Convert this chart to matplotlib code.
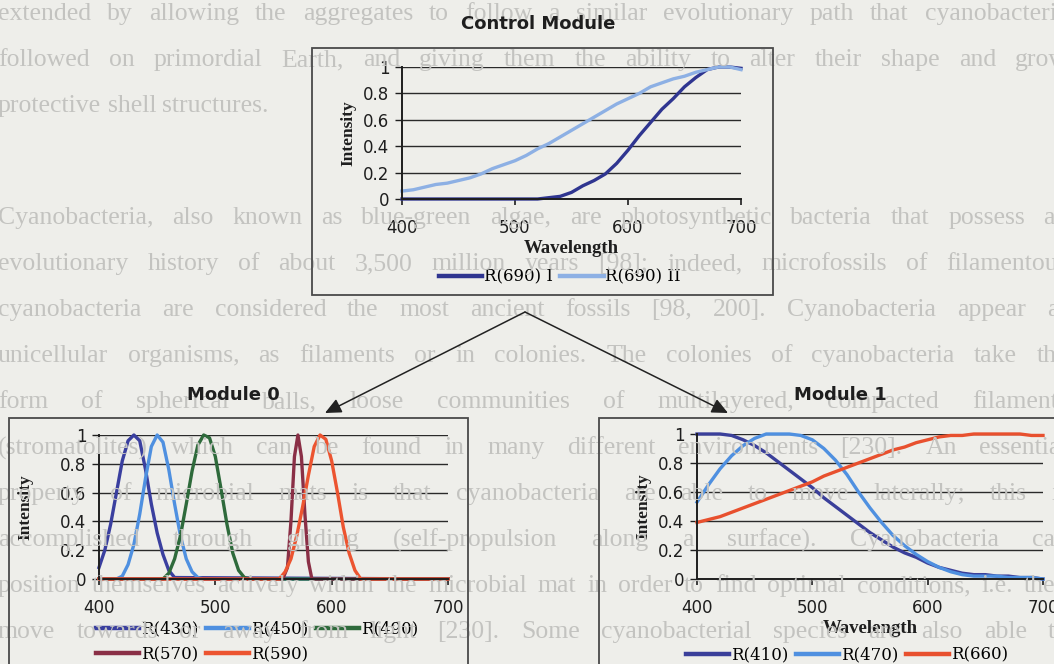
#!/usr/bin/env python3
"""
Spectral response of the control module and the two evolved modules
"""

import matplotlib
matplotlib.use('Agg')
import matplotlib.pyplot as plt
from matplotlib.patches import Rectangle, FancyArrowPatch
from matplotlib.font_manager import FontProperties

W, H = 1054, 664

# ---- data ----
wl = [400, 410, 420, 430, 440, 450, 460, 470, 480, 490, 500, 510, 520, 530, 540, 550,
      560, 570, 580, 590, 600, 610, 620, 630, 640, 650, 660, 670, 680, 690, 700]

control_labels = ['R(690) I', 'R(690) II']
r690_1 = [0, 0, 0, 0, 0, 0, 0, 0, 0, 0, 0, 0, 0, 0.01, 0.02, 0.05,
          0.1, 0.14, 0.19, 0.27, 0.37, 0.48, 0.58, 0.68, 0.76, 0.85, 0.92, 0.98, 1.0, 1.0, 0.99]
r690_2 = [0.06, 0.07, 0.09, 0.11, 0.12, 0.14, 0.16, 0.19, 0.23, 0.26, 0.29, 0.33, 0.38, 0.42, 0.47, 0.52,
          0.57, 0.62, 0.67, 0.72, 0.76, 0.80, 0.85, 0.88, 0.91, 0.93, 0.96, 0.98, 1.0, 1.0, 0.98]

module0_labels = ['R(430)', 'R(450)', 'R(490)', 'R(570)', 'R(590)']
r430_x = [400, 405, 410, 415, 420, 425, 430, 435, 440, 445, 450, 455, 460, 465, 700]
r430_y = [0.08, 0.2, 0.38, 0.6, 0.82, 0.96, 1.0, 0.96, 0.76, 0.52, 0.32, 0.17, 0.06, 0.01, 0]
r450_x = [400, 415, 420, 425, 430, 435, 440, 445, 450, 455, 460, 465, 470, 475, 480, 485, 490, 700]
r450_y = [0, 0, 0.02, 0.1, 0.24, 0.45, 0.7, 0.92, 1.0, 0.95, 0.76, 0.52, 0.3, 0.14, 0.05, 0.01, 0, 0]
r490_x = [400, 455, 460, 465, 470, 475, 480, 485, 490, 495, 500, 505, 510, 515, 520, 525, 530, 700]
r490_y = [0, 0, 0.04, 0.14, 0.3, 0.52, 0.75, 0.93, 1.0, 0.98, 0.85, 0.62, 0.38, 0.18, 0.06, 0.01, 0, 0]
r570_x = [400, 558, 562, 565, 568, 571, 574, 577, 580, 583, 700]
r570_y = [0, 0, 0.08, 0.4, 0.85, 1.0, 0.85, 0.45, 0.12, 0, 0]
r590_x = [400, 555, 560, 565, 570, 575, 580, 585, 590, 595, 600, 605, 610, 615, 620, 625, 700]
r590_y = [0, 0, 0.05, 0.14, 0.3, 0.5, 0.72, 0.92, 1.0, 0.97, 0.82, 0.6, 0.36, 0.18, 0.06, 0, 0]

module1_labels = ['R(410)', 'R(470)', 'R(660)']
r410 = [1.0, 1.0, 1.0, 0.99, 0.96, 0.92, 0.87, 0.81, 0.75, 0.69, 0.63, 0.56, 0.5, 0.44, 0.38, 0.32,
        0.27, 0.22, 0.18, 0.15, 0.11, 0.08, 0.06, 0.04, 0.03, 0.03, 0.02, 0.02, 0.01, 0.01, 0.0]
r470 = [0.53, 0.65, 0.76, 0.85, 0.92, 0.97, 1.0, 1.0, 1.0, 0.99, 0.96, 0.9, 0.82, 0.72, 0.6, 0.49,
        0.39, 0.3, 0.23, 0.17, 0.12, 0.08, 0.05, 0.03, 0.02, 0.02, 0.02, 0.01, 0.01, 0.01, 0.0]
r660 = [0.39, 0.41, 0.43, 0.46, 0.49, 0.52, 0.55, 0.58, 0.61, 0.64, 0.67, 0.71, 0.74, 0.77, 0.8, 0.83,
        0.86, 0.89, 0.91, 0.94, 0.96, 0.98, 0.99, 0.99, 1.0, 1.0, 1.0, 1.0, 1.0, 0.99, 0.99]

x_ticks = [400, 500, 600, 700]
y_ticks = [0, 0.2, 0.4, 0.6, 0.8, 1.0]
y_tick_labels = ['0', '0.2', '0.4', '0.6', '0.8', '1']

# faint page text behind the figure (y position in px, text, justified?)
page_y = [14, 60, 106, 218, 264, 310, 356, 402, 448, 494, 540, 586, 632]
page_lines = [
    "extended by allowing the aggregates to follow a similar evolutionary path that cyanobacteria",
    "followed on primordial Earth, and giving them the ability to alter their shape and grow",
    "protective shell structures.",
    "Cyanobacteria, also known as blue-green algae, are photosynthetic bacteria that possess an",
    "evolutionary history of about 3,500 million years [98]; indeed, microfossils of filamentous",
    "cyanobacteria are considered the most ancient fossils [98, 200]. Cyanobacteria appear as",
    "unicellular organisms, as filaments or in colonies. The colonies of cyanobacteria take the",
    "form of spherical balls, loose communities of multilayered, compacted filaments",
    "(stromatolites) which can be found in many different environments [230]. An essential",
    "property of microbial mats is that cyanobacteria are able to move laterally; this is",
    "accomplished through gliding (self-propulsion along a surface). Cyanobacteria can",
    "position themselves actively within the microbial mat in order to find optimal conditions, i.e. they",
    "move towards or away from light [230]. Some cyanobacterial species are also able to",
]
page_justify = [True, True, False, True, True, True, True, True, True, True, True, True, True]

BG = '#eeeeea'
PAGE_TEXT = '#c3c3c0'
INK = '#1e1e1e'
PAGE_FS = 18.5


def fx(px):
    return px / W


def fy(py):
    return 1 - py / H


def add_axes_px(left, right, top, bottom):
    return fig.add_axes([fx(left), fy(bottom), (right - left) / W, (bottom - top) / H])


def style_axes(ax):
    ax.set_facecolor('none')
    ax.set_xlim(400, 700)
    ax.set_ylim(0, 1)
    ax.set_xticks(x_ticks)
    ax.set_yticks(y_ticks)
    ax.set_yticklabels(y_tick_labels)
    ax.grid(axis='y', color='#2a2a2a', linewidth=1.0)
    ax.set_axisbelow(True)
    for side in ['top', 'right']:
        ax.spines[side].set_visible(False)
    for side in ['left', 'bottom']:
        ax.spines[side].set_color(INK)
        ax.spines[side].set_linewidth(1.4)
    ax.tick_params(axis='x', direction='out', length=4, width=1.2, pad=10.5,
                   labelsize=12, colors=INK)
    ax.tick_params(axis='y', direction='out', length=5, width=1.0, pad=4,
                   labelsize=12, colors=INK)


def add_frame(left, right, top, bottom):
    fig.add_artist(Rectangle((fx(left), fy(bottom)), (right - left) / W, (bottom - top) / H,
                             transform=fig.transFigure, fill=False,
                             edgecolor='#4a4a4a', linewidth=1.3, zorder=1))


def add_legend(ax, handles, labels, ncol, cx, cy):
    leg = ax.legend(handles, labels, loc='center', ncol=ncol,
                    bbox_to_anchor=(fx(cx), fy(cy)), bbox_transform=fig.transFigure,
                    frameon=False, handlelength=2.6, handletextpad=0.1,
                    columnspacing=0.45, labelspacing=0.5, borderpad=0,
                    prop=FontProperties(family='DejaVu Serif', size=12))
    for ln in leg.get_lines():
        ln.set_linewidth(3.2)


fig = plt.figure(figsize=(W / 100, H / 100), dpi=100, facecolor=BG)

label_font = dict(family='Liberation Serif', fontweight='bold', color=INK)
title_font = dict(family='DejaVu Sans', fontweight='bold', fontsize=13, color=INK)
LW = 2.4

# ---- control module ----
add_frame(312, 773, 48, 295)
ax_c = add_axes_px(402, 741, 67, 199)
style_axes(ax_c)
l1, = ax_c.plot(wl, r690_1, color='#2f3590', linewidth=LW, clip_on=False)
l2, = ax_c.plot(wl, r690_2, color='#8db0e4', linewidth=LW, clip_on=False)
ax_c.set_xlabel('Wavelength', fontsize=13.5, labelpad=2, **label_font)
ax_c.set_ylabel('Intensity', fontsize=12.5, labelpad=5, **label_font)
add_legend(ax_c, [l1, l2], control_labels, 2, 560, 277)
fig.text(fx(538), fy(24), 'Control Module', ha='center', va='center', **title_font)

# ---- module 0 ----
add_frame(9, 468, 418, 700)
ax_0 = add_axes_px(99, 448, 435, 579)
style_axes(ax_0)
m0_colors = ['#3a3f9f', '#4f90e0', '#2e6a3b', '#8a2f46', '#ec5430']
m0_lines = []
for xs, ys, c in zip([r430_x, r450_x, r490_x, r570_x, r590_x],
                     [r430_y, r450_y, r490_y, r570_y, r590_y], m0_colors):
    ln, = ax_0.plot(xs, ys, color=c, linewidth=LW, clip_on=False)
    m0_lines.append(ln)
ax_0.set_ylabel('Intensity', fontsize=12.5, labelpad=19, **label_font)
order = [0, 3, 1, 4, 2]
add_legend(ax_0, [m0_lines[i] for i in order], [module0_labels[i] for i in order],
           3, 257, 642)
fig.text(fx(233), fy(395), 'Module 0', ha='center', va='center', **title_font)

# ---- module 1 ----
add_frame(599, 1070, 418, 700)
ax_1 = add_axes_px(697, 1043, 434, 579)
style_axes(ax_1)
m1_lines = []
for ys, c in zip([r410, r470, r660], ['#3a3f9a', '#4f90e0', '#e8502e']):
    ln, = ax_1.plot(wl, ys, color=c, linewidth=LW, clip_on=False)
    m1_lines.append(ln)
ax_1.set_xlabel('Wavelength', fontsize=13.5, labelpad=2, **label_font)
ax_1.set_ylabel('Intensity', fontsize=12.5, labelpad=5, **label_font)
add_legend(ax_1, m1_lines, module1_labels, 3, 847, 655)
fig.text(fx(840), fy(395), 'Module 1', ha='center', va='center', **title_font)

# ---- arrows from control to modules ----
apex = (fx(525), fy(312))
for tip in [(fx(325), fy(413)), (fx(728), fy(413))]:
    fig.add_artist(FancyArrowPatch(apex, tip, transform=fig.transFigure,
                                   arrowstyle='-|>,head_length=0.65,head_width=0.3',
                                   mutation_scale=15, color='#222222', linewidth=1.1,
                                   shrinkA=0, shrinkB=0))

# ---- faint page text, justified by hand ----
fig.canvas.draw()
renderer = fig.canvas.get_renderer()
x0, x1 = -2, 1068
for y, line, just in zip(page_y, page_lines, page_justify):
    words = line.split()
    arts = [fig.text(0, fy(y), w, ha='left', va='center', family='Liberation Serif',
                     fontsize=PAGE_FS, color=PAGE_TEXT, zorder=0) for w in words]
    widths = [a.get_window_extent(renderer).width for a in arts]
    space = 0.25 * PAGE_FS * 100 / 72
    gap = space
    if just and len(words) > 1:
        gap = max(space, (x1 - x0 - sum(widths)) / (len(words) - 1))
    x = x0
    for a, w in zip(arts, widths):
        a.set_x(fx(x))
        x += w + gap

plt.savefig('out.png', dpi=100, facecolor=BG)
plt.close()
